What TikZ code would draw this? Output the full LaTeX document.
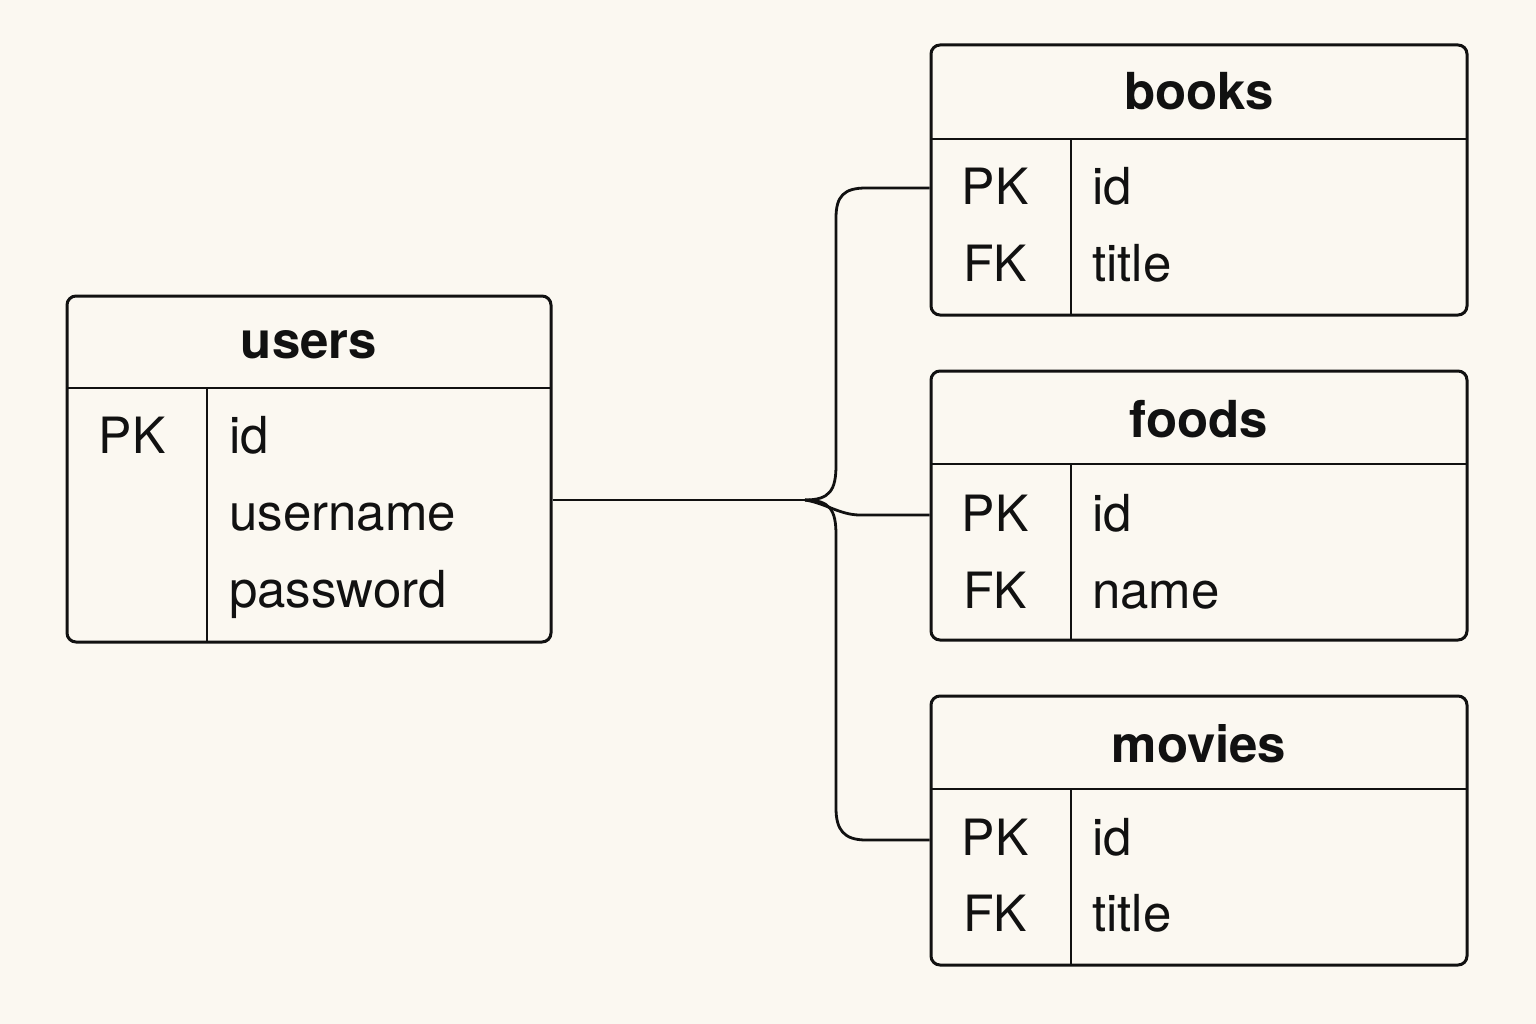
\documentclass[tikz,border=0pt]{standalone}
\usepackage{fontspec}
\setmainfont{TeX Gyre Heros}
\definecolor{bg}{HTML}{FBF8F1}
\definecolor{ink}{HTML}{111111}
\begin{document}
\begin{tikzpicture}[x=1pt,y=-1pt,
  tbox/.style={draw=ink, line width=3pt, rounded corners=9pt, inner sep=0pt},
  sep/.style={draw=ink, line width=2.8pt},
  conn/.style={draw=ink, line width=2.8pt},
  ttl/.style={anchor=base, font=\fontsize{51}{60}\selectfont\bfseries, text=ink, inner sep=0pt},
  key/.style={anchor=base, font=\fontsize{50}{58}\selectfont, text=ink, inner sep=0pt},
  fld/.style={anchor=base west, font=\fontsize{51}{58}\selectfont, text=ink, inner sep=0pt}]
\fill[bg] (0,0) rectangle (1536,1024);
\useasboundingbox (0,0) rectangle (1536,1024);

% users
\node[tbox, minimum width=484pt, minimum height=346pt] (users) at (309,469) {};
\draw[sep] (67,388) -- (551,388);
\draw[sep] (207,388) -- (207,642);
\node[ttl] (ut) at (309,358) {users};
\node[key] (upk) at (132,453) {PK};
\node[fld] (uid) at (229,453) {id};
\node[fld] (uun) at (229,530) {username};
\node[fld] (upw) at (229,607) {password};

% books
\node[tbox, minimum width=536pt, minimum height=270pt] (books) at (1199,180) {};
\draw[sep] (931,139) -- (1467,139);
\draw[sep] (1071,139) -- (1071,315);
\node[ttl] (bt) at (1199,110) {books};
\node[key] (bpk) at (995,205) {PK};
\node[key] (bfk) at (995,282) {FK};
\node[fld] (bid) at (1092,205) {id};
\node[fld] (bti) at (1092,282) {title};

% foods
\node[tbox, minimum width=536pt, minimum height=269pt] (foods) at (1199,505.5) {};
\draw[sep] (931,464) -- (1467,464);
\draw[sep] (1071,464) -- (1071,640);
\node[ttl] (ft) at (1199,437) {foods};
\node[key] (fpk) at (995,531) {PK};
\node[key] (ffk) at (995,608) {FK};
\node[fld] (fid) at (1092,531) {id};
\node[fld] (fna) at (1092,608) {name};

% movies
\node[tbox, minimum width=536pt, minimum height=269pt] (movies) at (1199,830.5) {};
\draw[sep] (931,789) -- (1467,789);
\draw[sep] (1071,789) -- (1071,965);
\node[ttl] (mt) at (1199,762) {movies};
\node[key] (mpk) at (995,855) {PK};
\node[key] (mfk) at (995,931) {FK};
\node[fld] (mid) at (1092,855) {id};
\node[fld] (mti) at (1092,931) {title};

% connectors
\coordinate (j) at (805,500);
\coordinate (bb) at (931,188);
\coordinate (fb) at (931,515);
\coordinate (mb) at (931,840);
\draw[conn] (users.east |- j) -- (j);
\draw[conn] (j) .. controls (830,500) and (836,490) .. (836,465) -- (836,218) .. controls (836,196) and (844,188) .. (866,188) -- (books.west |- bb);
\draw[conn] (j) .. controls (825,503) and (840,515) .. (860,515) -- (foods.west |- fb);
\draw[conn] (j) .. controls (830,500) and (836,510) .. (836,535) -- (836,808) .. controls (836,830) and (844,840) .. (866,840) -- (movies.west |- mb);
\end{tikzpicture}
\end{document}
